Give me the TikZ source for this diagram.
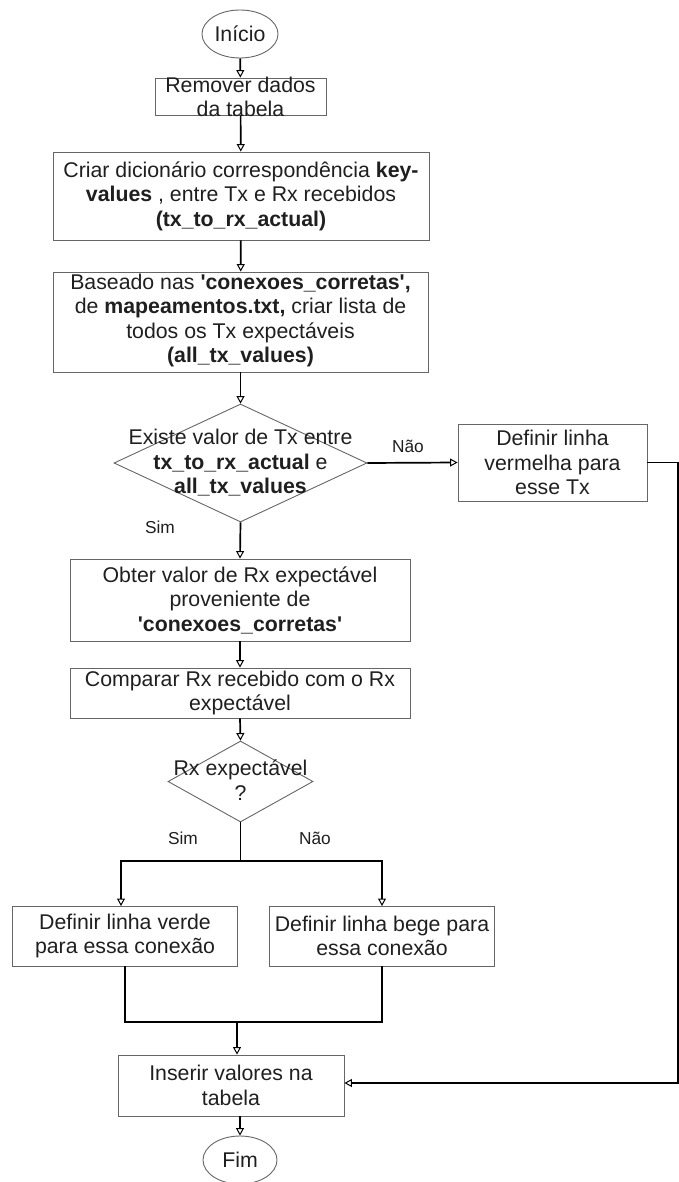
\documentclass[tikz,border=0pt]{standalone}
\usepackage{fontspec}
\setmainfont{Liberation Sans}[Ligatures=TeXOff]
\usetikzlibrary{arrows.meta,shapes.geometric}
\newcommand{\sq}{\char"27}
\begin{document}
\begin{tikzpicture}[x=1pt,y=-1pt,
  every node/.style={font=\fontsize{21.3}{24.5}\selectfont, align=center, inner sep=0pt, text=black!88},
  outline/.style={draw=black!60, line width=0.9pt},
  box/.style={outline, rectangle},
  term/.style={outline, ellipse},
  decision/.style={outline, diamond},
  lbl/.style={font=\fontsize{17.3}{20}\selectfont},
  flow/.style={line width=1.7pt, -{Triangle[open,length=7.5pt,width=8pt,line width=1pt]}},
  plain/.style={line width=1.7pt},
]
\useasboundingbox (0,0) rectangle (679,1182);

% start
\node[term, minimum width=76, minimum height=48] (start) at (240,34) {Início};

% clear table
\node[box, minimum width=171, minimum height=37] (rem) at (240.5,96.5) {};
\node at (240.5,97) {Remover dados\\da tabela};

% dictionary
\node[box, minimum width=376, minimum height=88] (dict) at (241,196)
  {Criar dicionário correspondência \textbf{key-}\\\textbf{values} , entre Tx e Rx recebidos\\\textbf{(tx\_to\_rx\_actual)}};

% list of expected Tx
\node[box, minimum width=375, minimum height=100] (list) at (240.5,322) {};
\node at (240.5,320.5)
  {Baseado nas \textbf{\sq conexoes\_corretas\sq,}\\de \textbf{mapeamentos.txt,} criar lista de\\todos os Tx expectáveis\\\textbf{(all\_tx\_values)}};

% first decision
\node[decision, minimum width=253, minimum height=118] (q1) at (240.5,463) {};
\node at (240.5,463) {Existe valor de Tx entre\\\textbf{tx\_to\_rx\_actual} e\\\textbf{all\_tx\_values}};

\node[box, minimum width=189, minimum height=77] (red) at (552.5,462.5) {Definir linha\\vermelha para\\esse Tx};

% expected Rx
\node[box, minimum width=340, minimum height=82] (exp) at (240,600)
  {Obter valor de Rx expectável\\proveniente de\\\textbf{\sq conexoes\_corretas\sq}};

\node[box, minimum width=340, minimum height=50] (cmp) at (240,693)
  {Comparar Rx recebido com o Rx\\expectável};

% second decision
\node[decision, minimum width=145, minimum height=81] (q2) at (240.5,781.5) {};
\node at (240.5,780) {Rx expectável\\?};

\node[box, minimum width=225, minimum height=60] (green) at (125,936) {Definir linha verde\\para essa conexão};
\node[box, minimum width=225, minimum height=60] (beige) at (382,936) {Definir linha bege para\\essa conexão};

% insert and end
\node[box, minimum width=226, minimum height=61] (ins) at (231,1085.5) {Inserir valores na\\tabela};
\node[term, minimum width=74, minimum height=48] (fim) at (240,1160) {Fim};

% connectors
\draw[flow] (start) -- (rem);
\draw[flow] (rem) -- (dict);
\draw[flow] (dict) -- (list);
\draw[flow] (list) -- (q1);

\draw[flow] (q1.east) -- node[lbl, above=9pt, pos=0.45] {Não} (red.west);
\draw[flow] (q1.south) -- (exp.north);
\node[lbl] (sim1) at (160,527) {Sim};

\coordinate (rt) at (678,462.5);
\coordinate (rb) at (678,1083);
\draw[flow] (red.east) -- (rt) -- (rb) -- (rb -| ins.east);

\draw[flow] (exp) -- (cmp);
\draw[flow] (cmp.south) -- (q2.north);

\coordinate (split) at (240.5,861);
\draw[plain] (q2.south) -- (split);
\draw[flow] (split) -| (121,906);
\draw[flow] (split) -| (382,906);
\node[lbl] (sim2) at (183,838) {Sim};
\node[lbl] (nao2) at (315,838) {Não};

\coordinate (merge) at (237,1022);
\draw[plain] (green.south) |- (merge) -| (beige.south);
\draw[flow] (merge) -- (merge |- ins.north);

\draw[flow] (fim.north |- ins.south) -- (fim.north);
\end{tikzpicture}
\end{document}
